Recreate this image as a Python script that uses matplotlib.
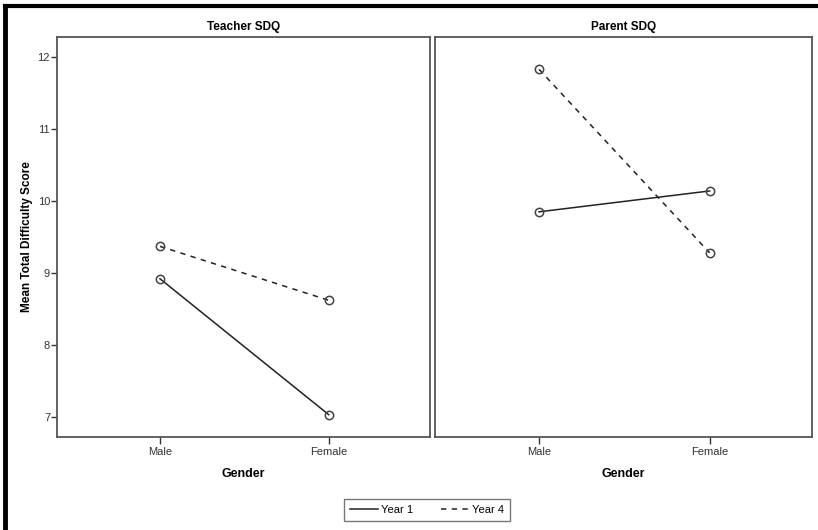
import matplotlib.pyplot as plt
from matplotlib.lines import Line2D

plt.rcParams['font.family'] = ['Liberation Sans', 'DejaVu Sans']

genders = ['Male', 'Female']
teacher_year1 = [8.92, 7.03]
teacher_year4 = [9.37, 8.62]
parent_year1 = [9.85, 10.14]
parent_year4 = [11.83, 9.28]
panels = ['Teacher SDQ', 'Parent SDQ']

W, H = 818, 530
fig = plt.figure(figsize=(W / 100, H / 100), dpi=100)

# panel positions in pixels (left, right, top, bottom)
boxes = [(57, 430, 37, 437), (435, 812, 37, 437)]
data = [(teacher_year1, teacher_year4), (parent_year1, parent_year4)]
spine_col = '#555555'
dash = (0, (3.5, 3.5))

axes = []
for i, (l, r, t, b) in enumerate(boxes):
    ax = fig.add_axes([l / W, 1 - b / H, (r - l) / W, (b - t) / H])
    y1, y4 = data[i]
    x = range(len(genders))
    ax.plot(x, y1, color='#222222', lw=1.1, ls='-', marker='o', ms=6,
            mfc='none', mec='#444444', mew=1.1, label='Year 1')
    ax.plot(x, y4, color='#222222', lw=1.1, ls=dash, marker='o', ms=6,
            mfc='none', mec='#444444', mew=1.1, label='Year 4')
    ax.set_xlim(-0.61, 1.6)
    ax.set_ylim(6.72, 12.28)
    ax.set_xticks(list(x))
    ax.set_xticklabels(genders)
    ax.set_yticks([7, 8, 9, 10, 11, 12])
    for s in ax.spines.values():
        s.set_color(spine_col)
        s.set_linewidth(1.3)
    ax.tick_params(axis='x', direction='out', length=5, width=1,
                   color='#333333', labelsize=8, labelcolor='#333333', pad=2)
    ax.tick_params(axis='y', direction='out', length=4, width=1,
                   color='#333333', labelsize=8, labelcolor='#333333', pad=1)
    ax.set_title(panels[i], fontsize=8.5, fontweight='bold', pad=5)
    ax.set_xlabel('Gender', fontsize=9, fontweight='bold', labelpad=8)
    if i == 1:
        ax.tick_params(axis='y', left=False, labelleft=False)
    axes.append(ax)

axes[0].set_ylabel('Mean Total Difficulty Score', fontsize=8.5, fontweight='bold', labelpad=3)

leg = fig.legend([Line2D([], [], color='#222222', lw=1.1),
                  Line2D([], [], color='#222222', lw=1.1, ls=dash)],
                 ['Year 1', 'Year 4'], loc='center', bbox_to_anchor=(427 / W, 1 - 510 / H),
                 ncol=2, fontsize=8, frameon=True, fancybox=False,
                 handlelength=2.5, handletextpad=0.3, columnspacing=2.5,
                 borderpad=0.5)
leg.get_frame().set_edgecolor('#555555')
leg.get_frame().set_linewidth(1.0)

# outer black frame: top and left only
fig.add_artist(Line2D([4.5 / W, 1], [1 - 5.5 / H, 1 - 5.5 / H], transform=fig.transFigure,
                      color='black', lw=3))
fig.add_artist(Line2D([4.5 / W, 4.5 / W], [0, 1 - 5.5 / H], transform=fig.transFigure,
                      color='black', lw=3.5))

fig.savefig('out.png', dpi=100)
